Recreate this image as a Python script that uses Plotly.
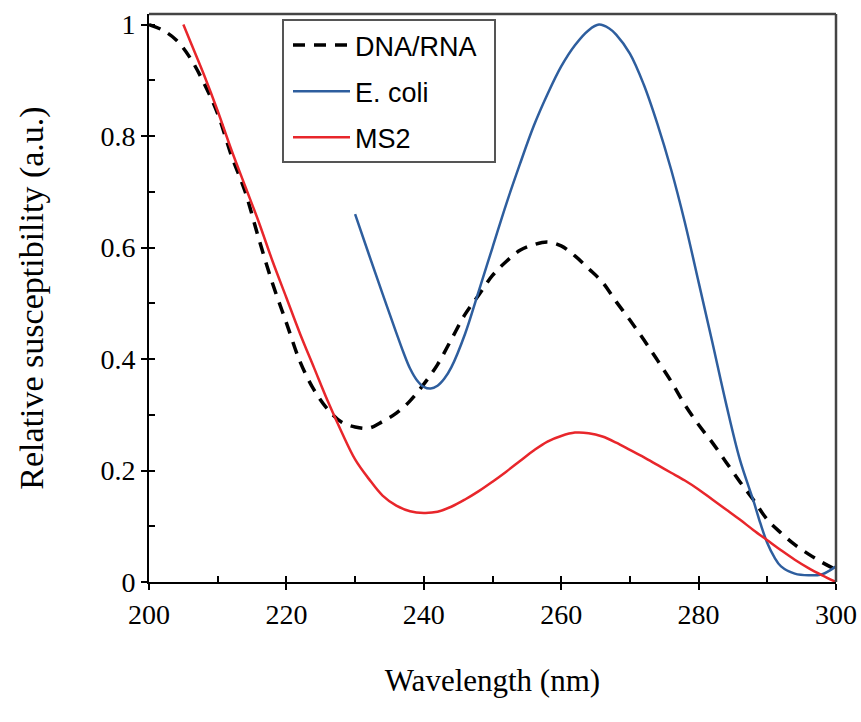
import plotly.graph_objects as go

# ---- data ----
dna_x = [200, 202, 204, 206, 208, 210, 212, 214, 216, 218, 220, 222, 224, 226, 228, 230,
         232, 234, 236, 238, 240, 242, 244, 246, 248, 250, 252, 254, 256, 258, 260, 262, 264, 266, 268,
         270, 272, 274, 276, 278, 280, 282, 284, 286, 288, 290, 292, 294, 296, 298, 300]
dna_y = [1.0, 0.99, 0.972, 0.94, 0.895, 0.84, 0.765, 0.70, 0.615, 0.535, 0.465, 0.395,
         0.345, 0.31, 0.287, 0.278, 0.276, 0.288, 0.303, 0.325, 0.355, 0.39, 0.435, 0.48, 0.515, 0.55,
         0.575, 0.595, 0.605, 0.61, 0.603, 0.585, 0.562, 0.538, 0.503, 0.47, 0.435, 0.398, 0.36, 0.318,
         0.282, 0.25, 0.215, 0.18, 0.147, 0.112, 0.088, 0.067, 0.05, 0.035, 0.022]

ecoli_x = [230, 232, 234, 236, 237, 238, 239, 240, 241, 242, 243, 244, 246, 248, 250, 252, 254, 256, 258,
           260, 262, 264, 265.5, 267, 268, 270, 272, 274, 276, 278, 280, 282, 284, 286, 288, 289, 290,
           291, 292, 294, 296, 298, 299, 300]
ecoli_y = [0.66, 0.588, 0.517, 0.447, 0.413, 0.383, 0.362, 0.35, 0.347, 0.352, 0.365, 0.385, 0.445, 0.522,
           0.6, 0.678, 0.75, 0.818, 0.875, 0.925, 0.963, 0.99, 1.0, 0.993, 0.982, 0.948, 0.893, 0.822,
           0.74, 0.645, 0.538, 0.43, 0.32, 0.22, 0.145, 0.105, 0.07, 0.045, 0.028, 0.015, 0.012, 0.014,
           0.02, 0.028]

ms2_x = [205, 206, 208, 210, 212, 214, 216, 218, 220, 222, 224, 226, 228, 230, 232, 234, 236, 238, 240,
         242, 244, 246, 248, 250, 252, 254, 256, 258, 260, 262, 264, 266, 268, 270, 272, 274, 276, 278,
         280, 282, 284, 286, 288, 290, 292, 294, 296, 298, 300]
ms2_y = [1.0, 0.97, 0.91, 0.845, 0.775, 0.71, 0.645, 0.575, 0.51, 0.445, 0.385, 0.325, 0.27, 0.22, 0.185,
         0.155, 0.137, 0.127, 0.124, 0.126, 0.135, 0.148, 0.163, 0.18, 0.198, 0.217, 0.236, 0.252,
         0.262, 0.268, 0.267, 0.261, 0.25, 0.237, 0.224, 0.21, 0.196, 0.182, 0.166, 0.148, 0.13, 0.112,
         0.093, 0.075, 0.057, 0.04, 0.025, 0.012, 0.0]

x_ticks = [200, 220, 240, 260, 280, 300]
y_ticks = [0, 0.2, 0.4, 0.6, 0.8, 1]
y_tick_text = ["0", "0.2", "0.4", "0.6", "0.8", "1"]

fig = go.Figure()
fig.add_trace(go.Scatter(x=dna_x, y=dna_y, mode="lines", name="DNA/RNA", legendgroup="a",
                         line=dict(color="black", width=3.5, dash="12px,9px", shape="spline")))
fig.add_trace(go.Scatter(x=ecoli_x, y=ecoli_y, mode="lines", name="E. coli", legendgroup="b",
                         line=dict(color="#2E5E9E", width=2.5, shape="spline")))
fig.add_trace(go.Scatter(x=ms2_x, y=ms2_y, mode="lines", name="MS2", legendgroup="c",
                         line=dict(color="#E8262B", width=2.5, shape="spline")))
# invisible trace on overlay axes to carry the inside ticks
fig.add_trace(go.Scatter(x=[200], y=[0], xaxis="x2", yaxis="y2", mode="markers",
                         marker=dict(opacity=0), showlegend=False, hoverinfo="skip"))

serif = "Liberation Serif, Times New Roman, serif"
sans = "Liberation Sans, Arial, sans-serif"

# full-window figure; the page's body margin is removed by a post script
W, H = 861, 722
L, R, T, B = 149, 25, 14, 140
pw, ph = W - L - R, H - T - B

def px_x(p):  # window pixel -> paper x
    return (p - L) / pw

def px_y(p):  # window pixel -> paper y
    return (H - B - p) / ph

fig.update_layout(
    width=W, height=H,
    margin=dict(l=L, r=R, t=T, b=B),
    paper_bgcolor="white", plot_bgcolor="white",
    showlegend=True,
    legend=dict(x=px_x(288), y=px_y(21), xanchor="left", yanchor="top",
                borderwidth=0, bgcolor="rgba(0,0,0,0)",
                font=dict(family=sans, size=27, color="black"),
                itemwidth=57, tracegroupgap=8),
    shapes=[
        dict(type="rect", xref="paper", yref="paper",
             x0=px_x(283), x1=px_x(495), y0=px_y(162), y1=px_y(20),
             line=dict(color="#555555", width=2), fillcolor="rgba(0,0,0,0)", layer="above"),
        # top and right frame lines (dark grey as in the reference)
        dict(type="line", xref="paper", yref="paper", x0=0, x1=1, y0=1, y1=1,
             line=dict(color="#444444", width=2.5), layer="above"),
        dict(type="line", xref="paper", yref="paper", x0=1, x1=1, y0=0, y1=1,
             line=dict(color="#444444", width=2.5), layer="above"),
    ],
    xaxis=dict(range=[200, 300], tickvals=x_ticks, ticks="outside", ticklen=6, tickwidth=2,
               tickcolor="black", showline=True, linecolor="black", linewidth=2, mirror=False,
               showgrid=False, zeroline=False, automargin=False,
               tickfont=dict(family=serif, size=28, color="black"),
               title=dict(text="Wavelength (nm)", font=dict(family=serif, size=31, color="black"),
                          standoff=41)),
    yaxis=dict(range=[0, 1.019], tickvals=y_ticks, ticktext=y_tick_text, ticks="outside", ticklen=6,
               tickwidth=2, tickcolor="black", showline=True, linecolor="black", linewidth=2,
               mirror=False, showgrid=False, zeroline=False, automargin=False,
               tickfont=dict(family=serif, size=28, color="black"),
               title=dict(text="Relative susceptibility (a.u.)",
                          font=dict(family=serif, size=34, color="black"), standoff=47)),
    xaxis2=dict(range=[200, 300], overlaying="x", anchor="y", dtick=10, tick0=200, ticks="inside",
                ticklen=6, tickwidth=2, tickcolor="black", showticklabels=False, showgrid=False,
                zeroline=False, showline=False, side="bottom", automargin=False),
    yaxis2=dict(range=[0, 1.019], overlaying="y", anchor="x", dtick=0.1, tick0=0, ticks="inside",
                ticklen=6, tickwidth=2, tickcolor="black", showticklabels=False, showgrid=False,
                zeroline=False, showline=False, side="left", automargin=False),
)

fig.write_html("out.html", config={"displayModeBar": False},
               post_script="document.body.style.margin='0';document.body.style.overflow='hidden';")
